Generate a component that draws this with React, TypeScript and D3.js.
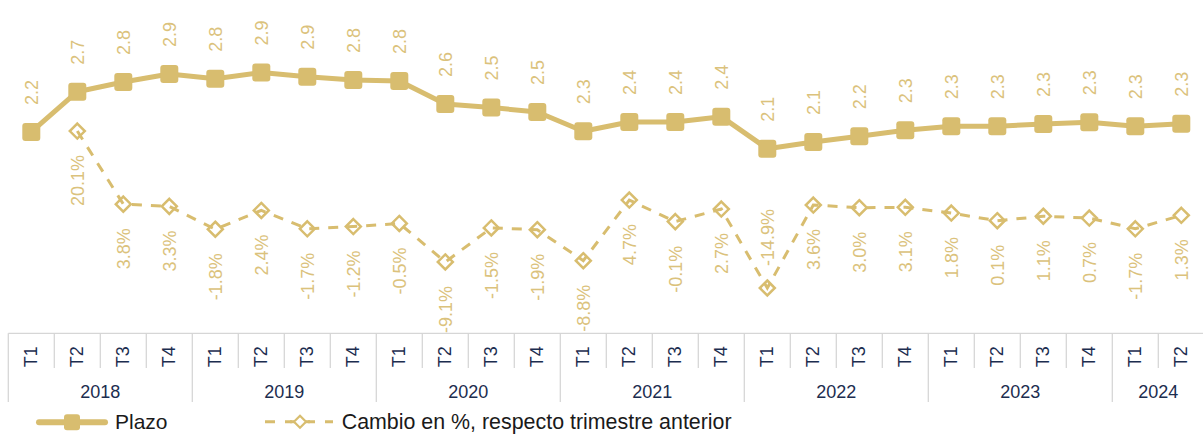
import React from "react";
import * as d3 from "d3";

const years = ["2018", "2019", "2020", "2021", "2022", "2023", "2024"];
const quarters = [
  "T1","T2","T3","T4","T1","T2","T3","T4","T1","T2","T3","T4","T1","T2","T3","T4",
  "T1","T2","T3","T4","T1","T2","T3","T4","T1","T2",
];
const quarterYear = [
  0,0,0,0,1,1,1,1,2,2,2,2,3,3,3,3,4,4,4,4,5,5,5,5,6,6,
];
const plazo = [
  2.245, 2.693, 2.802, 2.891, 2.838, 2.907, 2.86, 2.824, 2.813, 2.556, 2.517, 2.467, 2.252,
  2.356, 2.356, 2.415, 2.058, 2.133, 2.196, 2.263, 2.308, 2.308, 2.333, 2.352, 2.308, 2.337,
];
const plazoLabels = [
  "2.2","2.7","2.8","2.9","2.8","2.9","2.9","2.8","2.8","2.6","2.5","2.5","2.3",
  "2.4","2.4","2.4","2.1","2.1","2.2","2.3","2.3","2.3","2.3","2.3","2.3","2.3",
];
const cambio: (number | null)[] = [
  null, 20.1, 3.8, 3.3, -1.8, 2.4, -1.7, -1.2, -0.5, -9.1, -1.5, -1.9, -8.8,
  4.7, -0.1, 2.7, -14.9, 3.6, 3.0, 3.1, 1.8, 0.1, 1.1, 0.7, -1.7, 1.3,
];

const W = 1203;
const H = 435;
const GOLD = "#d8bd6f";
const LABEL_GOLD = "#dbc27c";
const NAVY = "#1c2d4f";
const GRID = "#d6d6d6";
const FONT = "'Liberation Sans', Arial, sans-serif";

const charW: Record<string, number> = { "-": 0.333, ".": 0.278, "%": 0.889 };
const textLen = (s: string, size: number) =>
  s.split("").reduce((a, c) => a + (charW[c] ?? 0.556), 0) * size;

export default function App() {
  const idx = quarters.map((_, i) => String(i));
  const x = d3.scaleBand<string>().domain(idx).range([8.3, 8.3 + 46 * quarters.length]);
  const cx = (i: number) => (x(String(i)) as number) + x.bandwidth() / 2;
  const yL = d3.scaleLinear().domain([0, 3.5]).range([333.3, 19.35]);
  const yR = d3.scaleLinear().domain([-25, 45]).range([333.3, 19.35]);

  const plazoLine = d3
    .line<number>()
    .x((_, i) => cx(i))
    .y((d) => yL(d))(plazo) as string;

  const cambioLine = d3
    .line<number | null>()
    .defined((d) => d !== null)
    .x((_, i) => cx(i))
    .y((d) => yR(d as number))(cambio) as string;

  const axisTop = 333.3;
  const yearStarts: number[] = [];
  quarterYear.forEach((y, i) => {
    if (i === 0 || quarterYear[i - 1] !== y) yearStarts.push(i);
  });

  const diamond = (px: number, py: number, r: number) =>
    `M${px},${py - r}L${px + r},${py}L${px},${py + r}L${px - r},${py}Z`;

  return (
    <svg
      width={W}
      height={H}
      style={{ position: "absolute", left: 0, top: 0, fontFamily: FONT }}
    >
      <rect width={W} height={H} fill="#fff" />
      {/* axis */}
      <line x1={8.3} x2={W} y1={axisTop} y2={axisTop} stroke={GRID} strokeWidth={1.3} />
      {quarters.map((_, i) => {
        const xe = x(String(i)) as number;
        const isYear = yearStarts.includes(i);
        return (
          <line
            key={"sep" + i}
            x1={xe}
            x2={xe}
            y1={axisTop}
            y2={isYear ? 402 : 368}
            stroke={GRID}
            strokeWidth={1.3}
          />
        );
      })}
      {quarters.map((q, i) => (
        <text
          key={"q" + i}
          transform={`translate(${cx(i)},356.7) rotate(-90)`}
          textAnchor="middle"
          dominantBaseline="central"
          fontSize={18}
          fill={NAVY}
        >
          {q}
        </text>
      ))}
      {years.map((yr, k) => {
        const members = quarterYear.map((v, i) => (v === k ? i : -1)).filter((i) => i >= 0);
        const x0 = x(String(members[0])) as number;
        const x1 = (x(String(members[members.length - 1])) as number) + x.bandwidth();
        return (
          <text key={yr} x={(x0 + x1) / 2} y={397.5} textAnchor="middle" fontSize={18} fill={NAVY}>
            {yr}
          </text>
        );
      })}

      {/* cambio series */}
      <path d={cambioLine} fill="none" stroke={GOLD} strokeWidth={3} strokeDasharray="10 9" />
      {cambio.map((d, i) =>
        d === null ? null : (
          <path
            key={"dm" + i}
            d={diamond(cx(i), yR(d), 7.5)}
            fill="none"
            stroke={GOLD}
            strokeWidth={2.5}
          />
        )
      )}
      {cambio.map((d, i) => {
        if (d === null) return null;
        const label = d.toFixed(1) + "%";
        const py = yR(d);
        const below = py + 24 + textLen(label, 18) <= axisTop + 10;
        return (
          <text
            key={"cl" + i}
            transform={`translate(${cx(i) + 1},${below ? py + 24 : py - 22}) rotate(-90)`}
            textAnchor={below ? "end" : "start"}
            dominantBaseline="central"
            fontSize={18}
            fill={LABEL_GOLD}
          >
            {label}
          </text>
        );
      })}

      {/* plazo series */}
      <path d={plazoLine} fill="none" stroke={GOLD} strokeWidth={5} strokeLinejoin="round" />
      {plazo.map((d, i) => (
        <rect
          key={"sq" + i}
          x={cx(i) - 9}
          y={yL(d) - 9}
          width={18}
          height={18}
          rx={3}
          fill={GOLD}
        />
      ))}
      {plazo.map((d, i) => (
        <text
          key={"pl" + i}
          transform={`translate(${cx(i) + 1},${yL(d) - 27}) rotate(-90)`}
          textAnchor="start"
          dominantBaseline="central"
          fontSize={18}
          fill={LABEL_GOLD}
        >
          {plazoLabels[i]}
        </text>
      ))}

      {/* legend */}
      <line x1={39} x2={105} y1={422.3} y2={422.3} stroke={GOLD} strokeWidth={6} strokeLinecap="round" />
      <rect x={64} y={414.3} width={16} height={16} rx={3} fill={GOLD} />
      <text x={115} y={429} fontSize={21} fill="#1a1a1a">
        Plazo
      </text>
      <line x1={265} x2={333} y1={421.7} y2={421.7} stroke={GOLD} strokeWidth={3} strokeDasharray="10 10" />
      <rect x={292} y={414} width={16} height={16} fill="#fff" />
      <line x1={290} x2={310} y1={421.7} y2={421.7} stroke={GOLD} strokeWidth={3} />
      <path d={diamond(300, 421.7, 6)} fill="#fff" stroke={GOLD} strokeWidth={2.2} />
      <text x={341.7} y={429} fontSize={21.4} fill="#1a1a1a">
        Cambio en %, respecto trimestre anterior
      </text>
    </svg>
  );
}
